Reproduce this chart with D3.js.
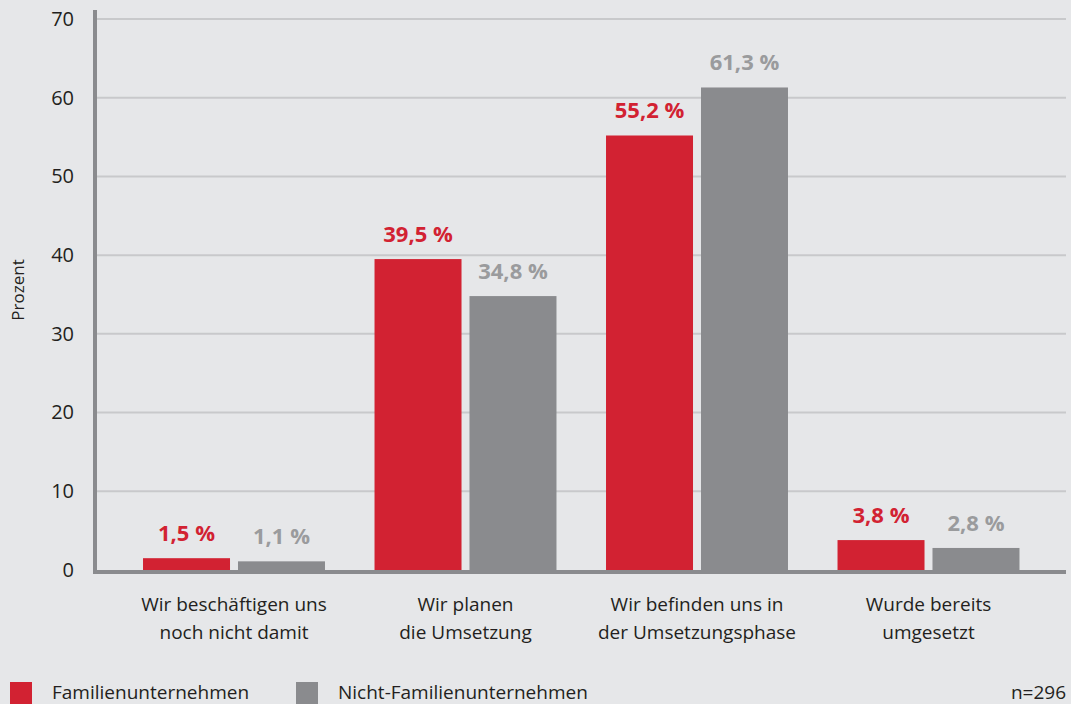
<html>
<head>
  <meta charset="utf-8">
  <script src="https://d3js.org/d3.v7.min.js"></script>
  <style>
    body { margin: 0; background: #e6e7e9; }
    text { font-family: "Open Sans", sans-serif; }
  </style>
</head>
<body>
<svg id="chart" width="1071" height="704"></svg>
<script>
  var categories = [
    ["Wir beschäftigen uns", "noch nicht damit"],
    ["Wir planen", "die Umsetzung"],
    ["Wir befinden uns in", "der Umsetzungsphase"],
    ["Wurde bereits", "umgesetzt"]
  ];
  var seriesNames = ["Familienunternehmen", "Nicht-Familienunternehmen"];
  var familyValues = [1.5, 39.5, 55.2, 3.8];
  var nonFamilyValues = [1.1, 34.8, 61.3, 2.8];
  var yTicks = [0, 10, 20, 30, 40, 50, 60, 70];

  var barColors = ["#d22232", "#8a8b8e"];
  var labelColors = ["#d22232", "#9a9b9d"];
  var textColor = "#231f20";

  var svg = d3.select("#chart");

  var y = d3.scaleLinear().domain([0, 70]).range([570, 19]);
  var x0 = d3.scaleBand().domain(d3.range(categories.length))
             .range([118.25, 1044.25]).paddingInner(0.214).paddingOuter(0.107);
  var x1 = d3.scaleBand().domain([0, 1]).range([0, x0.bandwidth()]).paddingInner(0.084);

  // gridlines
  svg.append("g")
     .selectAll("line")
     .data(yTicks.filter(d => d > 0))
     .enter().append("line")
     .attr("x1", 96).attr("x2", 1066)
     .attr("y1", d => y(d)).attr("y2", d => y(d))
     .style("stroke", "#c8c9cb")
     .style("stroke-width", 2);

  // y axis
  var yAxis = svg.append("g")
     .attr("transform", "translate(95,0)")
     .call(d3.axisLeft(y).tickValues(yTicks).tickSize(0).tickPadding(21));
  yAxis.select(".domain").remove();
  yAxis.selectAll("text").style("font-size", "20px").style("fill", textColor);

  svg.append("text")
     .attr("transform", "translate(24,290) rotate(-90)")
     .attr("text-anchor", "middle")
     .style("font-size", "17px")
     .style("fill", textColor)
     .text("Prozent");

  // bars
  var rows = categories.map((c, i) => ({ i: i, values: [familyValues[i], nonFamilyValues[i]] }));

  var groups = svg.append("g").selectAll("g")
     .data(rows)
     .enter().append("g")
     .attr("transform", d => "translate(" + x0(d.i) + ",0)");

  groups.selectAll("rect")
     .data(d => d.values.map((v, s) => ({ s: s, v: v })))
     .enter().append("rect")
     .attr("x", d => x1(d.s))
     .attr("y", d => y(d.v))
     .attr("width", x1.bandwidth())
     .attr("height", d => y(0) - y(d.v))
     .style("fill", d => barColors[d.s]);

  groups.selectAll("text")
     .data(d => d.values.map((v, s) => ({ s: s, v: v })))
     .enter().append("text")
     .attr("x", d => x1(d.s) + x1.bandwidth() / 2)
     .attr("y", d => y(d.v) - 17)
     .attr("text-anchor", "middle")
     .style("font-size", "22px")
     .style("font-weight", "bold")
     .style("fill", d => labelColors[d.s])
     .text(d => d3.format(".1f")(d.v).replace(".", ",") + " %");

  // axis lines
  svg.append("line")
     .attr("x1", 95).attr("x2", 95).attr("y1", 10).attr("y2", 574)
     .style("stroke", "#8a8b8e").style("stroke-width", 4);
  svg.append("line")
     .attr("x1", 93).attr("x2", 1066).attr("y1", y(0) + 2).attr("y2", y(0) + 2)
     .style("stroke", "#8a8b8e").style("stroke-width", 4);

  // category labels
  var catText = svg.append("g").selectAll("text")
     .data(categories)
     .enter().append("text")
     .attr("x", (d, i) => x0(i) + x0.bandwidth() / 2)
     .attr("y", 611)
     .attr("text-anchor", "middle")
     .style("font-size", "19px")
     .style("fill", textColor);
  catText.selectAll("tspan")
     .data(d => d)
     .enter().append("tspan")
     .attr("x", function() { return d3.select(this.parentNode).attr("x"); })
     .attr("dy", (d, i) => i === 0 ? 0 : 28)
     .text(d => d);

  // legend
  var legendX = [10, 296];
  seriesNames.forEach(function(name, s) {
    svg.append("rect")
       .attr("x", legendX[s]).attr("y", 682)
       .attr("width", 22).attr("height", 22)
       .style("fill", barColors[s]);
    svg.append("text")
       .attr("x", legendX[s] + 42).attr("y", 699)
       .style("font-size", "19px")
       .style("fill", textColor)
       .text(name);
  });
  svg.append("text")
     .attr("x", 1066).attr("y", 699)
     .attr("text-anchor", "end")
     .style("font-size", "19px")
     .style("fill", textColor)
     .text("n=296");
</script>
</body>
</html>
